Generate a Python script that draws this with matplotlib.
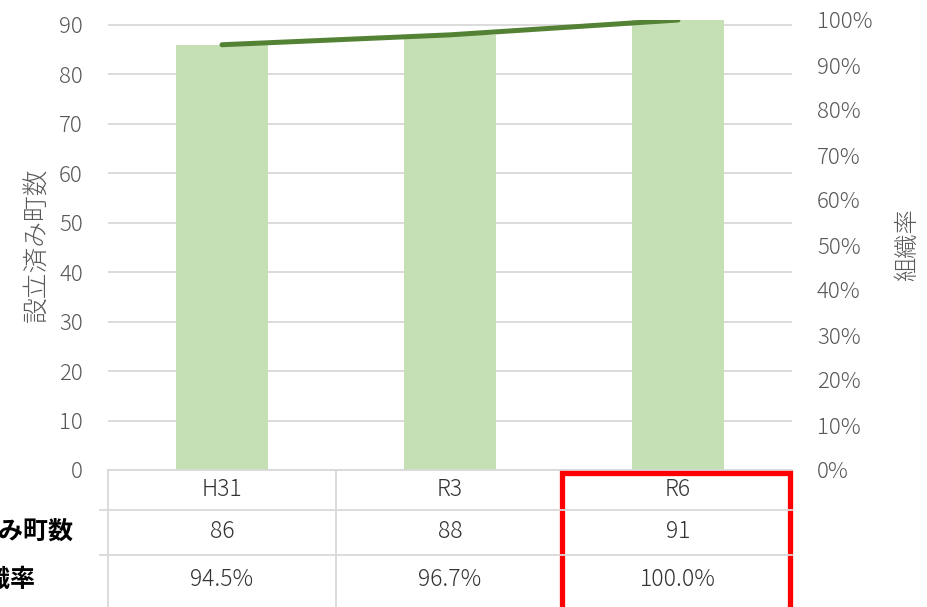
import matplotlib.pyplot as plt
import matplotlib.transforms as mtransforms
from matplotlib.patches import Rectangle

plt.rcParams['font.family'] = ['Noto Sans CJK JP', 'DejaVu Sans']

# data
years = ['H31', 'R3', 'R6']
towns = [86, 88, 91]
rate = [94.5, 96.7, 100.0]
row_labels = ['設立済み町数', '組織率']
left_label = '設立済み町数'
right_label = '組織率'

W, H = 928, 607
fig = plt.figure(figsize=(W / 100, H / 100), dpi=100)
ax = fig.add_axes([108 / W, (H - 470) / H, (792 - 108) / W, (470 - 20) / H])

x = list(range(len(years)))
ax.bar(x, towns, width=0.4, color='#C5E0B4', zorder=2)
ax.set_xlim(-0.5, len(years) - 0.5)
ax.set_ylim(0, 91)
ax.set_yticks(range(0, 100, 10))
ax.grid(axis='y', color='#D9D9D9', linewidth=1.3, zorder=0)
for s in ['top', 'right', 'left']:
    ax.spines[s].set_visible(False)
ax.spines['bottom'].set_color('#D9D9D9')
ax.spines['bottom'].set_linewidth(1.3)
ax.set_xticks([])
ax.tick_params(axis='y', length=0, pad=18, labelsize=16, labelcolor='#595959')
for t in ax.get_yticklabels():
    t.set_fontweight('light')
ax.set_ylabel(left_label, fontsize=18.5, color='#595959', labelpad=6,
              fontweight='light')

ax2 = ax.twinx()
ax2.plot(x, rate, color='#548235', linewidth=3.6, solid_capstyle='round', zorder=3)
ax2.set_ylim(0, 100)
ax2.set_yticks(range(0, 101, 10))
ax2.set_yticklabels([f'{v}%' for v in range(0, 101, 10)], fontweight='light')
for s in ax2.spines.values():
    s.set_visible(False)
ax2.tick_params(axis='y', length=0, pad=18, labelsize=16, labelcolor='#595959')
ax2.set_ylabel(right_label, fontsize=17.5, color='#595959', rotation=90,
               labelpad=16, fontweight='light')

# data table below the axes
tr = mtransforms.blended_transform_factory(ax.transData, fig.transFigure)
def fy(py):
    return (H - py) / H

rows = [years, [str(v) for v in towns], [f'{v:.1f}%' for v in rate]]
row_y = [490, 532, 580]
for r, (vals, py) in enumerate(zip(rows, row_y)):
    for i, v in enumerate(vals):
        ax.text(i, fy(py), v, transform=tr, ha='center', va='center',
                fontsize=16.5, color='#333333', clip_on=False, fontweight='light')
for lab, py in zip(row_labels, row_y[1:]):
    fig.text(-2 / W, fy(py), lab, ha='center', va='center', fontsize=18,
             fontweight='bold', color='black')

# table grid lines
for b in [i - 0.5 for i in range(len(years) + 1)]:
    ax.plot([b, b], [fy(470), fy(607)], transform=tr, color='#D9D9D9',
            linewidth=1.3, clip_on=False)
for py in [510, 555]:
    fig.add_artist(plt.Line2D([100 / W, 792 / W], [fy(py), fy(py)],
                              color='#D9D9D9', linewidth=1.3))

# highlight the last column
hi = len(years) - 1
ax.add_patch(Rectangle((hi - 0.5 - 0.01, fy(610)), 1.0, fy(473) - fy(610),
                       transform=tr, fill=False, edgecolor='#FF0000',
                       linewidth=3.8, clip_on=False, zorder=5))

fig.savefig('out.png', dpi=100)
